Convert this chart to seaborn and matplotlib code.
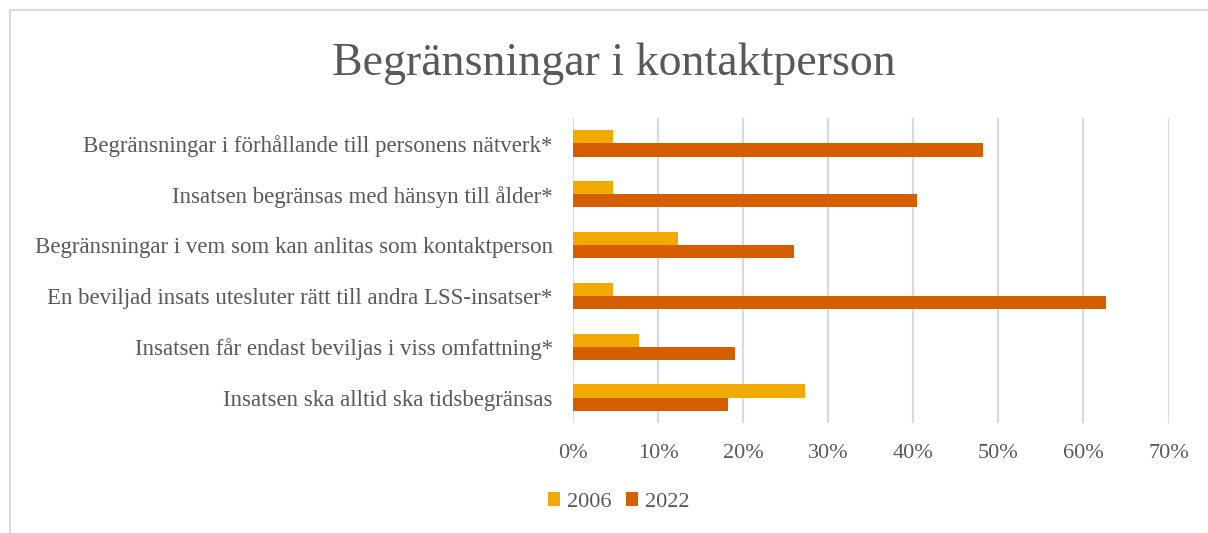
import matplotlib
matplotlib.use("Agg")
import matplotlib.pyplot as plt
import seaborn as sns
import pandas as pd
from matplotlib.patches import Rectangle, Patch

categories = [
    "Begränsningar i förhållande till personens nätverk*",
    "Insatsen begränsas med hänsyn till ålder*",
    "Begränsningar i vem som kan anlitas som kontaktperson",
    "En beviljad insats utesluter rätt till andra LSS-insatser*",
    "Insatsen får endast beviljas i viss omfattning*",
    "Insatsen ska alltid ska tidsbegränsas",
]
years = ["2006", "2022"]
values_2006 = [4.7, 4.7, 12.4, 4.7, 7.7, 27.3]
values_2022 = [48.2, 40.4, 26.0, 62.6, 19.1, 18.2]
x_ticks = [0, 10, 20, 30, 40, 50, 60, 70]
x_tick_labels = ["0%", "10%", "20%", "30%", "40%", "50%", "60%", "70%"]
title = "Begränsningar i kontaktperson"

colors = ["#F2AA00", "#D45E00"]
text_color = "#595959"
grid_color = "#D9D9D9"

df = pd.DataFrame({
    "category": categories * 2,
    "year": [years[0]] * len(categories) + [years[1]] * len(categories),
    "value": values_2006 + values_2022,
})

sns.set_theme(style="white")
plt.rcParams["font.family"] = ["Liberation Serif", "DejaVu Serif"]

W, H = 1208, 533
fig = plt.figure(figsize=(W / 100, H / 100), dpi=100)
fig.patch.set_facecolor("white")

ax = fig.add_axes([573 / W, 1 - 423 / H, (1168.5 - 573) / W, (423 - 118) / H])
sns.barplot(data=df, x="value", y="category", hue="year", hue_order=years,
            order=categories, orient="h", palette=colors, width=0.52,
            gap=0, saturation=1, linewidth=0, legend=False, ax=ax)

ax.set_xlim(0, 70)
ax.set_ylim(len(categories) - 0.5, -0.5)
ax.set_xticks(x_ticks)
ax.set_xticklabels(x_tick_labels)
ax.set_xlabel("")
ax.set_ylabel("")
for s in ax.spines.values():
    s.set_visible(False)
ax.xaxis.grid(True, color=grid_color, linewidth=1.6)
ax.yaxis.grid(False)
ax.set_axisbelow(True)
ax.tick_params(axis="both", length=0, colors=text_color)
ax.tick_params(axis="y", pad=14.5, labelsize=16.5)
ax.tick_params(axis="x", pad=15, labelsize=16)

fig.text(614 / W, 1 - 75 / H, title, ha="center", va="baseline",
         fontsize=33, color=text_color)

handles = [Patch(facecolor=c, edgecolor="none") for c in colors]
fig.legend(handles, years, loc="center left",
           bbox_to_anchor=(548 / W, 1 - 502 / H), bbox_transform=fig.transFigure,
           ncol=2, frameon=False, fontsize=16, handlelength=0.55, handleheight=0.6,
           handletextpad=0.3, columnspacing=0.65, borderpad=0, borderaxespad=0,
           labelcolor=text_color)

fig.patches.append(Rectangle((10 / W, -0.1), 1.2, 1.1 - 10 / H,
                             transform=fig.transFigure, fill=False,
                             edgecolor=grid_color, linewidth=1.5))

fig.savefig("out.png", dpi=100, facecolor="white")
